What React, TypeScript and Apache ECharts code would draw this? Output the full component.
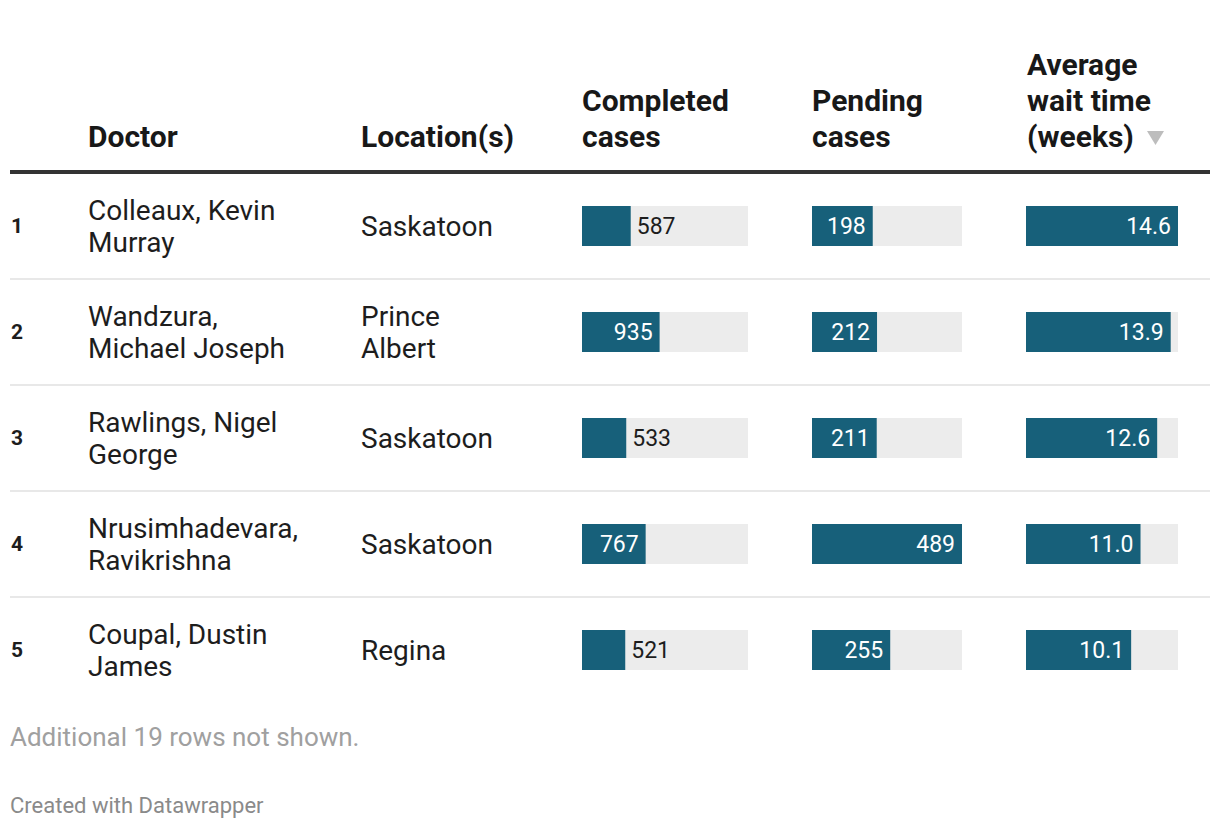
import React, { useEffect, useRef } from "react";
import * as echarts from "echarts";

// ---- data ----
const ranks = ["1", "2", "3", "4", "5"];
const doctors = [
  "Colleaux, Kevin\nMurray",
  "Wandzura,\nMichael Joseph",
  "Rawlings, Nigel\nGeorge",
  "Nrusimhadevara,\nRavikrishna",
  "Coupal, Dustin\nJames",
];
const locations = ["Saskatoon", "Prince\nAlbert", "Saskatoon", "Saskatoon", "Regina"];
const completedCases = [587, 935, 533, 767, 521];
const pendingCases = [198, 212, 211, 489, 255];
const avgWaitWeeks = [14.6, 13.9, 12.6, 11.0, 10.1];
// column maxima (incl. the 19 hidden rows)
const completedMax = 2000;
const pendingMax = 489;
const waitMax = 14.6;
const headers = ["Doctor", "Location(s)", "Completed\ncases", "Pending\ncases", "Average\nwait time\n(weeks)"];
const footnote = "Additional 19 rows not shown.";
const credit = "Created with Datawrapper";

const FONT = "Roboto, 'Noto Sans', sans-serif";
const BAR = "#17607a";
const TRACK = "#ececec";
const TEXT = "#1d1d1d";

const TOP = 173;
const ROW_H = 106;

export default function App() {
  const ref = useRef<HTMLDivElement>(null);
  useEffect(() => {
    if (!ref.current) return;
    const chart = echarts.init(ref.current, undefined, { renderer: "svg" });

    const cols = [
      { left: 582, width: 166, data: completedCases, max: completedMax, fmt: (v: number) => String(v) },
      { left: 812, width: 150, data: pendingCases, max: pendingMax, fmt: (v: number) => String(v) },
      { left: 1026, width: 152, data: avgWaitWeeks, max: waitMax, fmt: (v: number) => v.toFixed(1) },
    ];

    const rowCenter = (i: number) => TOP + ROW_H * i + ROW_H / 2;

    const graphics: any[] = [];
    // header texts
    const headerX = [88, 361, 582, 812, 1027];
    headers.forEach((h, i) => {
      graphics.push({
        type: "text",
        z: 10,
        style: {
          text: h,
          x: headerX[i],
          y: 154,
          fill: "#181818",
          fontSize: 30,
          fontWeight: "bold",
          fontFamily: FONT,
          lineHeight: 36,
          align: "left",
          verticalAlign: "bottom",
        },
      });
    });
    // sort triangle
    graphics.push({
      type: "polygon",
      z: 10,
      shape: { points: [[1147, 131], [1164, 131], [1155.5, 145]] },
      style: { fill: "#bdbdbd" },
    });
    // header rule
    graphics.push({
      type: "line",
      z: 10,
      shape: { x1: 10, y1: 172, x2: 1210, y2: 172 },
      style: { stroke: "#333333", lineWidth: 4 },
    });
    // row separators
    for (let i = 1; i < ranks.length; i++) {
      const y = TOP + ROW_H * i;
      graphics.push({
        type: "line",
        z: 10,
        shape: { x1: 10, y1: y, x2: 1210, y2: y },
        style: { stroke: "#e8e8e8", lineWidth: 2 },
      });
    }
    // row texts
    ranks.forEach((r, i) => {
      const cy = rowCenter(i);
      graphics.push({
        type: "text",
        z: 10,
        style: { text: r, x: 11, y: cy, fill: TEXT, fontSize: 21, fontWeight: "bold", fontFamily: FONT, align: "left", verticalAlign: "middle" },
      });
      graphics.push({
        type: "text",
        z: 10,
        style: { text: doctors[i], x: 88, y: cy, fill: TEXT, fontSize: 28, fontFamily: FONT, lineHeight: 32, align: "left", verticalAlign: "middle" },
      });
      graphics.push({
        type: "text",
        z: 10,
        style: { text: locations[i], x: 361, y: cy, fill: TEXT, fontSize: 28, fontFamily: FONT, lineHeight: 32, align: "left", verticalAlign: "middle" },
      });
    });
    // footer
    graphics.push({
      type: "text",
      z: 10,
      style: { text: footnote, x: 10, y: 737, fill: "#a0a0a0", fontSize: 26, fontFamily: FONT, align: "left", verticalAlign: "middle" },
    });
    graphics.push({
      type: "text",
      z: 10,
      style: { text: credit, x: 10, y: 805, fill: "#8a8a8a", fontSize: 22, fontFamily: FONT, align: "left", verticalAlign: "middle" },
    });

    chart.setOption({
      animation: false,
      grid: cols.map((c) => ({ left: c.left, width: c.width, top: TOP, height: ROW_H * ranks.length, containLabel: false })),
      xAxis: cols.map((c, i) => ({ type: "value", gridIndex: i, min: 0, max: c.max, show: false })),
      yAxis: cols.map((c, i) => ({ type: "category", gridIndex: i, data: ranks, inverse: true, show: false })),
      series: cols.map((c, i) => ({
        type: "bar",
        xAxisIndex: i,
        yAxisIndex: i,
        barWidth: 40,
        showBackground: true,
        backgroundStyle: { color: TRACK },
        itemStyle: { color: BAR },
        label: {
          show: true,
          fontSize: 23,
          fontFamily: FONT,
          textBorderWidth: 0,
          formatter: (p: any) => c.fmt(p.value),
        },
        data: c.data.map((v) => ({
          value: v,
          label:
            v / c.max > 0.33
              ? { position: "insideRight", color: "#ffffff", distance: 7 }
              : { position: "right", color: TEXT, distance: 6 },
        })),
      })),
      graphic: graphics,
    });
    return () => chart.dispose();
  }, []);

  return (
    <div
      ref={ref}
      style={{ position: "fixed", left: 0, top: 0, width: 1220, height: 828, background: "#ffffff" }}
    />
  );
}
